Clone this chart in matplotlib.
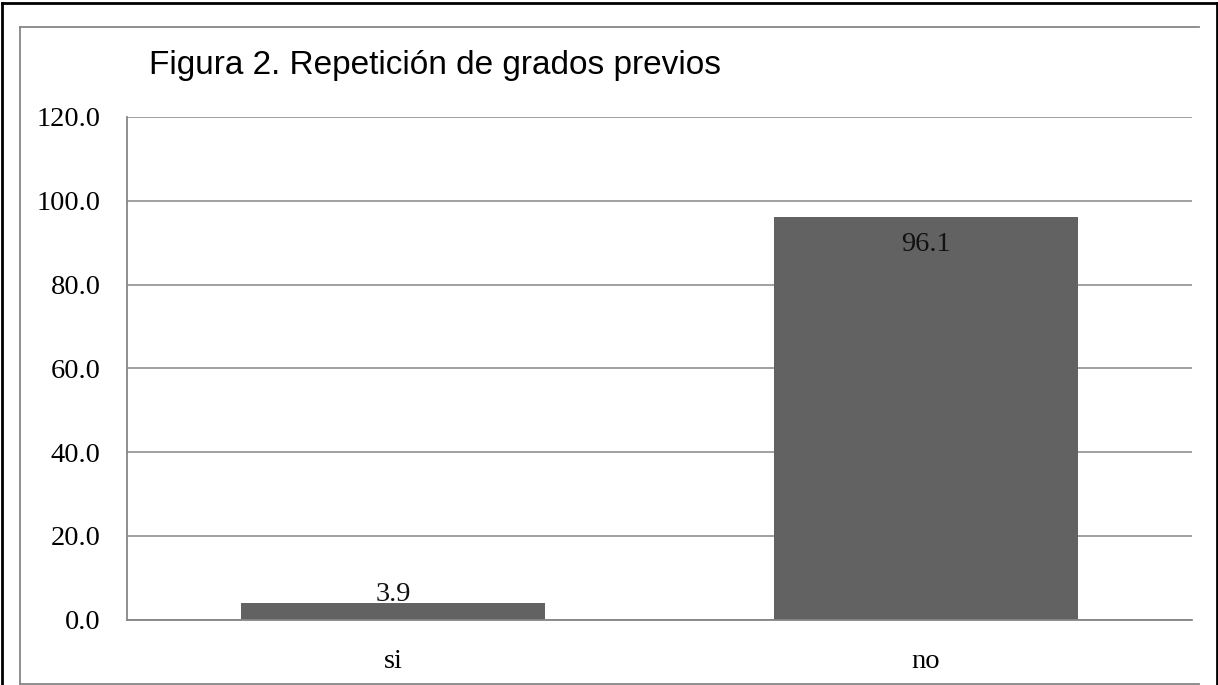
import matplotlib
matplotlib.use("Agg")
import matplotlib.pyplot as plt
from matplotlib.lines import Line2D

categories = ["si", "no"]
values = [3.9, 96.1]
y_ticks = [0, 20, 40, 60, 80, 100, 120]
title = "Figura 2. Repetición de grados previos"

W, H = 1218, 685
grid_col = "#868686"
bar_col = "#626262"
serif = "Liberation Serif"


def px(x, y):
    # pixel position (from top-left) -> figure fraction
    return x / W, 1 - y / H


fig = plt.figure(figsize=(W / 100, H / 100), dpi=100)

# frames around the chart
frame_lines = [
    ((20, 1199), (27, 27), grid_col, 1.3),
    ((20, 20), (27, 684), grid_col, 1.3),
    ((20, 1199), (684, 684), grid_col, 1.3),
    ((1.5, 1216.5), (2.5, 2.5), "black", 2.0),
    ((1.5, 1.5), (2.5, 685), "black", 2.0),
    ((1216.5, 1216.5), (2.5, 685), "black", 2.0),
]
for xs, ys, col, lw in frame_lines:
    fx = [x / W for x in xs]
    fy = [1 - y / H for y in ys]
    fig.add_artist(Line2D(fx, fy, color=col, lw=lw, transform=fig.transFigure))

left, top = px(127, 117)
right, bottom = px(1192, 619.5)
ax = fig.add_axes([left, bottom, right - left, top - bottom])

x = range(len(categories))
bars = ax.bar(x, values, width=0.57, color=bar_col, zorder=3)

ax.set_xlim(-0.5, 1.5)
ax.set_ylim(0, 120)
ax.set_yticks(y_ticks)
ax.set_yticklabels([f"{v:.1f}" for v in y_ticks], fontfamily=serif, fontsize=20.5)
ax.set_xticks(list(x))
ax.set_xticklabels(categories, fontfamily=serif, fontsize=20.5)
ax.tick_params(axis="both", length=0)
ax.tick_params(axis="y", pad=19)
ax.tick_params(axis="x", pad=21)

ax.grid(axis="y", color=grid_col, lw=1.1, zorder=1)
for side in ["top", "right"]:
    ax.spines[side].set_visible(False)
for side in ["left", "bottom"]:
    ax.spines[side].set_color(grid_col)
    ax.spines[side].set_linewidth(1.3)
    ax.spines[side].set_zorder(4)

# value labels
for b, v in zip(bars, values):
    cx = b.get_x() + b.get_width() / 2
    if v > 10:
        ax.annotate(f"{v:.1f}", (cx, v), xytext=(0, -11), textcoords="offset points",
                    ha="center", va="top", fontfamily=serif, fontsize=20.5, color="#111111",
                    zorder=5)
    else:
        ax.annotate(f"{v:.1f}", (cx, v), xytext=(0, -3), textcoords="offset points",
                    ha="center", va="bottom", fontfamily=serif, fontsize=20.5, color="#111111",
                    zorder=5)

tx, ty = px(149, 74)
fig.text(tx, ty, title, fontfamily="Liberation Sans", fontsize=24, ha="left",
         va="baseline", color="black")

fig.savefig("out.png", dpi=100)
